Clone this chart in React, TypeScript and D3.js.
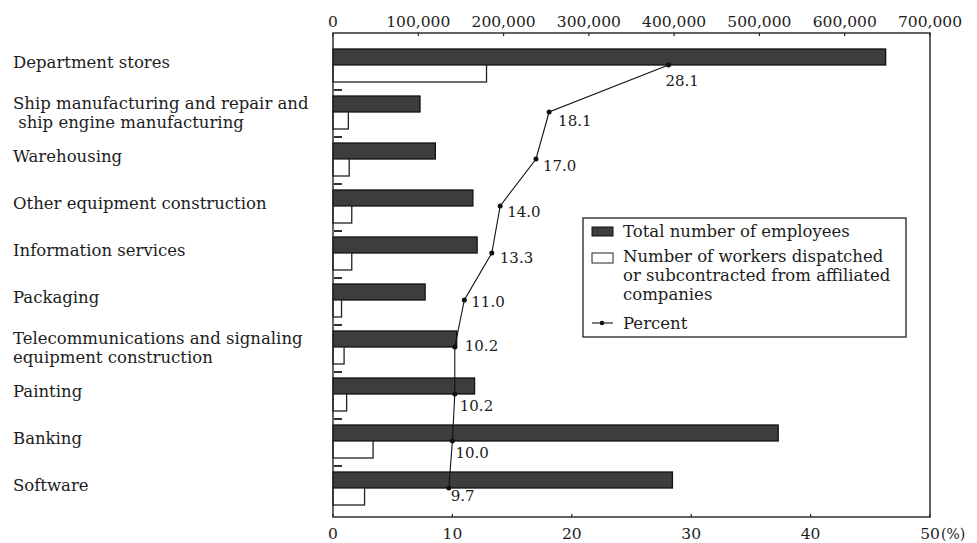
import React from "react";
import * as d3 from "d3";

const categories: string[][] = [
  ["Department stores"],
  ["Ship manufacturing and repair and", " ship engine manufacturing"],
  ["Warehousing"],
  ["Other equipment construction"],
  ["Information services"],
  ["Packaging"],
  ["Telecommunications and signaling", "equipment construction"],
  ["Painting"],
  ["Banking"],
  ["Software"],
];
const totalEmployees = [648000, 102000, 120000, 164000, 169000, 108000, 145000, 166000, 522000, 398000];
const dispatchedWorkers = [180000, 18000, 19000, 22000, 22000, 10000, 13000, 16000, 47000, 37000];
const percent = [28.1, 18.1, 17.0, 14.0, 13.3, 11.0, 10.2, 10.2, 10.0, 9.7];
const topTicks = [0, 100000, 200000, 300000, 400000, 500000, 600000, 700000];
const bottomTicks = [0, 10, 20, 30, 40, 50];
const legendItems = [
  ["Total number of employees"],
  ["Number of workers dispatched", "or subcontracted from affiliated", "companies"],
  ["Percent"],
];

// layout-only nudges for percent labels [dx, dy]
const labelNudge: [number, number][] = [
  [-3, 15], [9, 8], [7, 6], [7, 5], [8, 4], [7, 1], [10, -2], [5, 11], [3, 11], [2, 7],
];

const FONT = "'DejaVu Serif', serif";
const INK = "#1c1c1c";

export default function App() {
  const W = 977, H = 543;
  const left = 333, right = 930, top = 33, bottom = 517;
  const xTop = d3.scaleLinear().domain([0, 700000]).range([left, right]);
  const xPct = d3.scaleLinear().domain([0, 50]).range([left, right]);
  const idx = categories.map((_, i) => String(i));
  const y = d3.scaleBand().domain(idx).range([41, 41 + 47 * 10]).paddingInner(0).paddingOuter(0);

  const darkOff = 8, darkH = 16, hollowOff = 24, hollowH = 17;
  const pts: [number, number][] = percent.map((p, i) => [xPct(p), (y(String(i)) as number) + hollowOff]);
  const line = d3.line()(pts) || "";
  const fmt = d3.format(",");

  return (
    <div style={{ position: "fixed", left: 0, top: 0, width: W, height: H, background: "#fff" }}>
      <svg width={W} height={H} style={{ display: "block" }} fontFamily={FONT}>
        <rect x={0} y={0} width={W} height={H} fill="#fff" />
        {/* top axis labels */}
        {topTicks.map((t) => (
          <text key={"tt" + t} x={xTop(t)} y={27} textAnchor="middle" fontSize={15.5} fill={INK}>
            {fmt(t)}
          </text>
        ))}
        {bottomTicks.map((t) => (
          <text key={"bt" + t} x={xPct(t)} y={539} textAnchor="middle" fontSize={15.5} fill={INK}>
            {t}
          </text>
        ))}
        <text x={xPct(50) + 11} y={539} fontSize={14} fill={INK}>(%)</text>

        {/* bars */}
        {categories.map((_, i) => {
          const y0 = y(String(i)) as number;
          return (
            <g key={"b" + i}>
              <rect x={xTop(0)} y={y0 + darkOff} width={xTop(totalEmployees[i]) - xTop(0)} height={darkH}
                fill="#3d3d3d" stroke="#111" strokeWidth={1.3} />
              <rect x={xTop(0)} y={y0 + hollowOff} width={xTop(dispatchedWorkers[i]) - xTop(0)} height={hollowH}
                fill="#fff" stroke="#222" strokeWidth={1.3} />
              {i > 0 && (
                <line x1={left + 1} x2={left + 9} y1={y0 + 2} y2={y0 + 2} stroke="#333" strokeWidth={2} />
              )}
            </g>
          );
        })}

        {/* frame */}
        <rect x={left} y={top} width={right - left} height={bottom - top} fill="none" stroke="#222" strokeWidth={1.4} />
        {topTicks.map((t) => (
          <line key={"tk" + t} x1={xTop(t)} x2={xTop(t)} y1={top} y2={top + 3} stroke="#222" strokeWidth={1.2} />
        ))}
        {bottomTicks.map((t) => (
          <line key={"bk" + t} x1={xPct(t)} x2={xPct(t)} y1={bottom} y2={bottom - 3} stroke="#222" strokeWidth={1.2} />
        ))}

        {/* category labels */}
        {categories.map((lines, i) => {
          const y0 = y(String(i)) as number;
          const base = lines.length === 1 ? y0 + 27 : y0 + 21;
          return lines.map((ln, j) => (
            <text key={"c" + i + j} x={13} y={base + j * 19} fontSize={16.5} fill={INK} style={{ whiteSpace: "pre" }}>
              {ln}
            </text>
          ));
        })}

        {/* percent line */}
        <path d={line} fill="none" stroke="#111" strokeWidth={1.1} />
        {pts.map(([px, py], i) => (
          <g key={"p" + i}>
            <circle cx={px} cy={py} r={2.5} fill="#111" />
            <text x={px + labelNudge[i][0]} y={py + labelNudge[i][1] + 5.5} fontSize={15} fill={INK}>
              {percent[i].toFixed(1)}
            </text>
          </g>
        ))}

        {/* legend */}
        <g>
          <rect x={583} y={218} width={323} height={119} fill="#fff" stroke="#222" strokeWidth={1.3} />
          <rect x={592} y={227} width={21} height={9} fill="#3d3d3d" stroke="#111" strokeWidth={1} />
          <text x={623} y={237} fontSize={16.5} fill={INK}>{legendItems[0][0]}</text>
          <rect x={592} y={253} width={21} height={10} fill="#fff" stroke="#222" strokeWidth={1} />
          {legendItems[1].map((ln, j) => (
            <text key={"l" + j} x={623} y={262 + j * 19} fontSize={16.5} fill={INK}>{ln}</text>
          ))}
          <line x1={592} x2={613} y1={323} y2={323} stroke="#111" strokeWidth={1.1} />
          <circle cx={602} cy={323} r={2.3} fill="#111" />
          <text x={623} y={329} fontSize={16.5} fill={INK}>{legendItems[2][0]}</text>
        </g>
      </svg>
    </div>
  );
}
